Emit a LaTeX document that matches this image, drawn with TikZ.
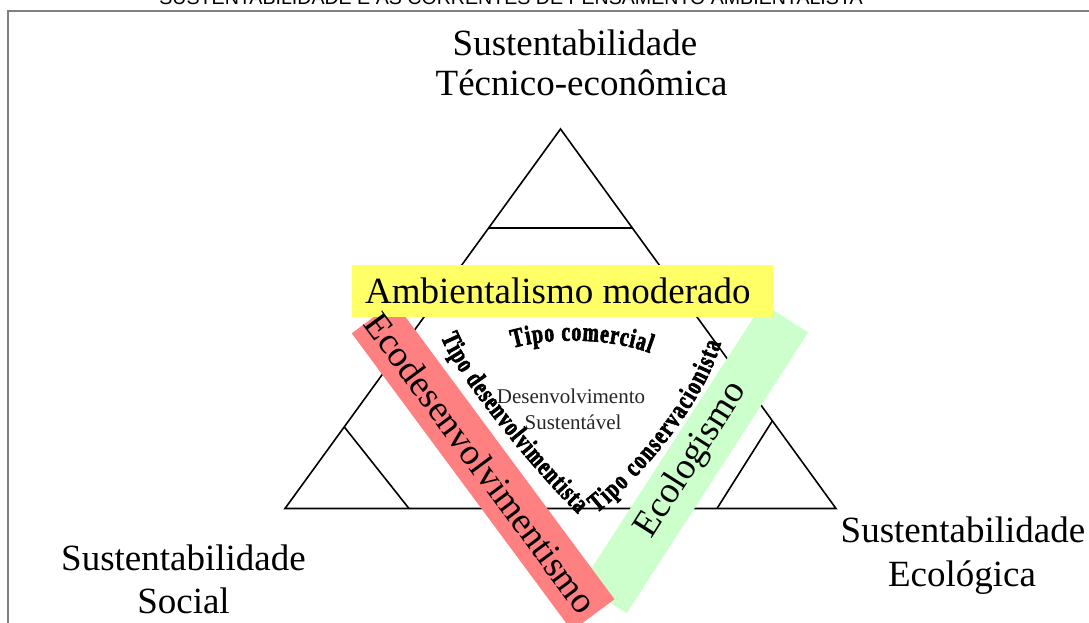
\documentclass[tikz,border=0pt]{standalone}
\usepackage{fontspec}
\setmainfont{Liberation Serif}
\newfontfamily\headfont{Liberation Sans}
\newfontfamily\wafont[FakeStretch=0.72,FakeBold=2.5]{Liberation Serif}
\usetikzlibrary{decorations.text,calc}
\definecolor{bandyellow}{HTML}{FFFF66}
\definecolor{bandred}{HTML}{FF8080}
\definecolor{bandgreen}{HTML}{CCFFCC}
\definecolor{framegray}{HTML}{808080}
\tikzset{
  tri/.style={line width=1.6pt, line join=miter},
  bigtxt/.style={font=\fontsize{37}{41}\selectfont, inner sep=0pt},
  smalltxt/.style={font=\fontsize{21}{24}\selectfont, inner sep=0pt, text=black!85},
  headtxt/.style={font=\headfont\fontsize{19.6}{22}\selectfont, inner sep=0pt},
  wordart/.style={decorate, decoration={text along path, text align={fit to path},
    text={|\wafont\bfseries\fontsize{27}{27}\selectfont|#1}}},
}
\begin{document}
\begin{tikzpicture}[x=1pt,y=-1pt]
\useasboundingbox (0,0) rectangle (1089,623);
\clip (0,0) rectangle (1089,623);
% header (cut by the top edge)
\node[headtxt, anchor=base] (head) at (511,4.5) {SUSTENTABILIDADE E AS CORRENTES DE PENSAMENTO AMBIENTALISTA};
% frame
\draw[framegray, line width=2pt] (7.8,700) -- (7.8,11) -- (1200,11);
% triangle
\coordinate (A) at (560.5,129);
\coordinate (L) at (285,508.5);
\coordinate (R) at (836,508.5);
\coordinate (bl) at (409,508.5);
\coordinate (br) at (717,508.5);
\draw[tri] (A) -- (L) -- (R) -- cycle;
\draw[tri] ($(A)!0.261!(L)$) -- ($(A)!0.261!(R)$);
\draw[tri] ($(A)!0.785!(L)$) -- (bl);
\draw[tri] ($(A)!0.769!(R)$) -- (br);
% bands
\fill[bandgreen] (581.1,584.4) -- (626.7,613.3) -- (808.3,332.3) -- (762.7,303.4) -- cycle;
\fill[bandred] (351.7,333.3) -- (394.3,301.8) -- (614.5,599.3) -- (571.9,630.8) -- cycle;
\fill[bandyellow] (352,265) rectangle (773,317);
% band texts
\node[bigtxt, anchor=base west] (amb) at (365,303) {Ambientalismo moderado};
\node[bigtxt, rotate=-53.5] (ecod) at (481,463) {Ecodesenvolvimentismo};
\node[bigtxt, rotate=57.65] (ecol) at (691.6,460.3) {Ecologismo};
% corner labels
\node[bigtxt, anchor=base] (t1) at (575,56) {Sustentabilidade};
\node[bigtxt, anchor=base] (t2) at (581.5,96) {Técnico-econômica};
\node[bigtxt, anchor=base] (s1) at (183.5,570) {Sustentabilidade};
\node[bigtxt, anchor=base] (s2) at (183.5,613) {Social};
\node[bigtxt, anchor=base] (e1) at (963,542) {Sustentabilidade};
\node[bigtxt, anchor=base] (e2) at (962,586) {Ecológica};
% centre
\node[smalltxt, anchor=base] (c1) at (571,403) {Desenvolvimento};
\node[smalltxt, anchor=base] (c2) at (573,429) {Sustentável};
% curved texts
\path[wordart={Tipo comercial}] (513,348) .. controls (550,337) and (610,338) .. (650,353);
\path[wordart={Tipo desenvolvimentista}] (441,337) .. controls (453,372) and (533,470) .. (578,514);
\path[wordart={Tipo conservacionista}] (597,513) .. controls (632,486) and (702,410) .. (721,343);
\end{tikzpicture}
\end{document}
